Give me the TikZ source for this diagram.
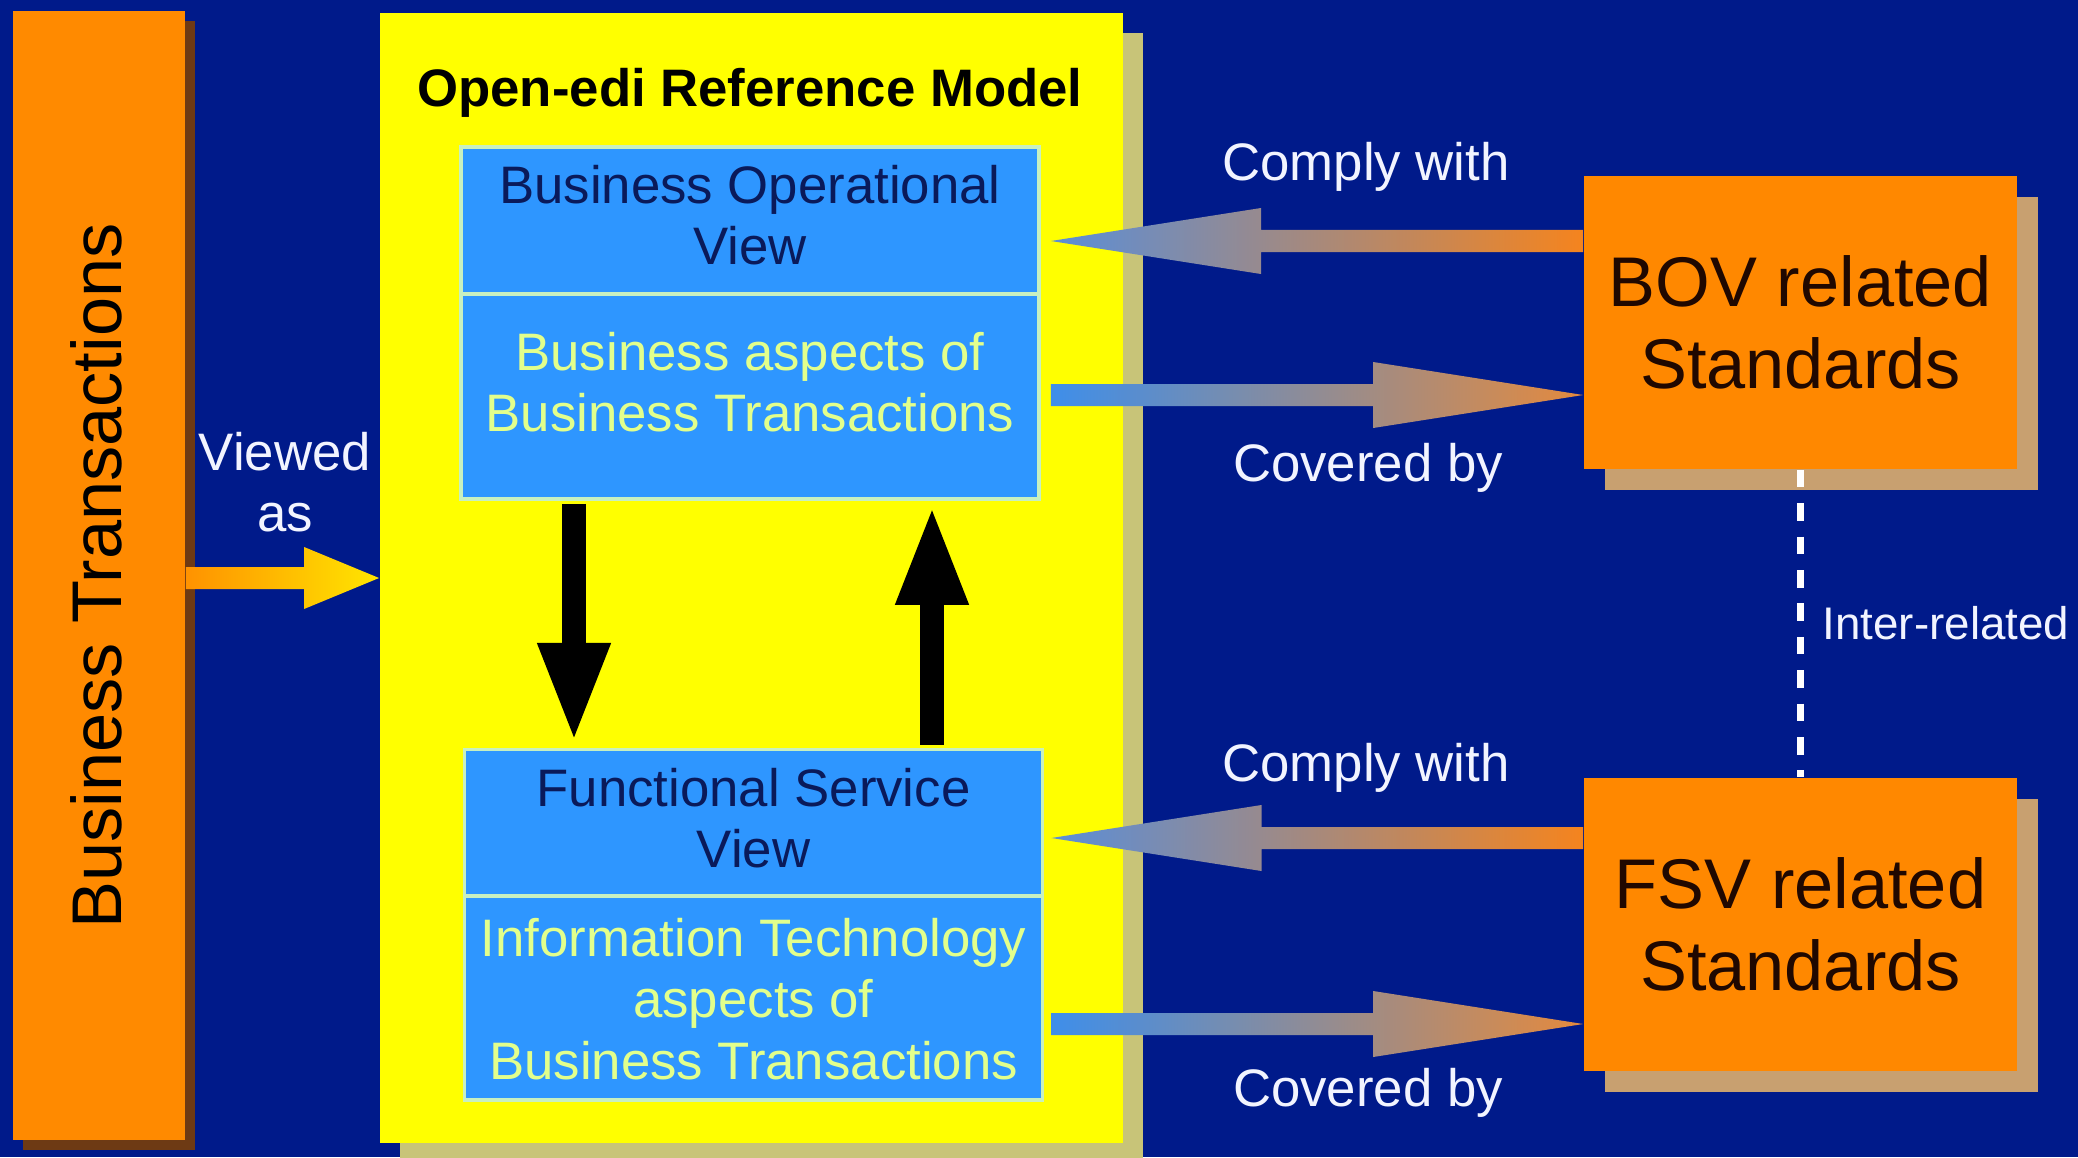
\documentclass[tikz,border=0pt]{standalone}
\usepackage{fontspec}
\setmainfont{Liberation Sans}
\usetikzlibrary{arrows.meta}
\usetikzlibrary{calc}
\usetikzlibrary{shadows}
\definecolor{navybg}{HTML}{001A8A}
\definecolor{barorange}{HTML}{FF8A00}
\definecolor{barshade}{HTML}{6E3A14}
\definecolor{modelyellow}{HTML}{FFFF00}
\definecolor{modelshade}{HTML}{C8C478}
\definecolor{viewblue}{HTML}{2E96FF}
\definecolor{viewline}{HTML}{C8F0C0}
\definecolor{viewtext}{HTML}{0A1A5A}
\definecolor{asptext}{HTML}{E2FF8C}
\definecolor{stdorange}{HTML}{FF8800}
\definecolor{stdshade}{HTML}{C8A070}
\definecolor{stdtext}{HTML}{200800}
\definecolor{tipblue}{HTML}{5A8ED8}
\definecolor{tailblue}{HTML}{3E8EEA}
\definecolor{tailorange}{HTML}{F5841E}
\definecolor{tiporange}{HTML}{E48A3E}
\definecolor{vieworange}{HTML}{FF9200}
\definecolor{viewyellow}{HTML}{FFE600}
\definecolor{labelwhite}{HTML}{F2F4FF}
% fat shaded arrow: from, to, head length, head half width, shading
\newcommand\fatarrow[5]{%
\coordinate (fa-a) at (#1);
\coordinate (fa-b) at (#2);
\coordinate (fa-h) at ($(fa-b)!#3!(fa-a)$);
\shade[#5] ($(fa-a)!0.11cm!90:(fa-b)$) -- ($(fa-h)!0.11cm!90:(fa-b)$) -- ($(fa-h)!#4!90:(fa-b)$) -- (fa-b)
 -- ($(fa-h)!#4!-90:(fa-b)$) -- ($(fa-h)!0.11cm!-90:(fa-b)$) -- ($(fa-a)!0.11cm!-90:(fa-b)$) -- cycle;}
\tikzset{
	transbar/.style={rectangle,fill=barorange,inner sep=0pt,minimum width=1.72cm,minimum height=11.29cm,
		drop shadow={shadow xshift=0.1cm,shadow yshift=-0.1cm,fill=barshade,opacity=1}},
	bartxt/.style={rotate=90,inner sep=0pt,font=\fontsize{20}{24}\selectfont},
	refmodel/.style={rectangle,fill=modelyellow,inner sep=0pt,minimum width=7.43cm,minimum height=11.30cm,
		drop shadow={shadow xshift=0.2cm,shadow yshift=-0.2cm,fill=modelshade,opacity=1}},
	titletxt/.style={inner sep=0pt,font=\fontsize{15}{18}\selectfont\bfseries},
	viewbox/.style={rectangle,fill=viewblue,draw=viewline,line width=1pt,inner sep=0pt,minimum width=5.78cm},
	viewtxt/.style={inner sep=0pt,align=center,text=viewtext,font=\fontsize{15}{17.4}\selectfont},
	asptxt/.style={inner sep=0pt,align=center,text=asptext,font=\fontsize{15}{17.4}\selectfont},
	stdbox/.style={rectangle,fill=stdorange,inner sep=0pt,minimum width=4.33cm,minimum height=2.93cm,
		align=center,text=stdtext,font=\fontsize{20}{23.3}\selectfont,
		drop shadow={shadow xshift=0.21cm,shadow yshift=-0.21cm,fill=stdshade,opacity=1}},
	arrlabel/.style={inner sep=0pt,align=center,text=labelwhite,font=\fontsize{15}{17.4}\selectfont},
	blkarrow/.style={line width=0.24cm,black,-{Triangle[width=0.66cm,length=1cm]}},
	interrel/.style={white,line width=2pt,dash pattern=on 5pt off 4.5pt},
}
\begin{document}
\begin{tikzpicture}[x=0.01cm,y=-0.01cm]
% BACKGROUND
\fill[navybg] (0,0) rectangle (2078,1157);
\useasboundingbox (0,0) rectangle (2078,1157);
% NODES
\node[transbar] (bt) at (99,575.5) {};
\node[bartxt] (bttxt) at (96,576) {Business Transactions};
\node[refmodel] (orm) at (751.5,578) {};
\node[titletxt] (ormtitle) at (750,93) {Open-edi Reference Model};
\node[viewbox,minimum height=1.47cm] (bov) at (750,220.5) {};
\node[viewtxt] (bovtxt) at (750,215) {Business Operational\\View};
\node[viewbox,minimum height=2.05cm] (bovasp) at (750,396.5) {};
\node[asptxt] (bovasptxt) at (750,382) {Business aspects of\\Business Transactions};
\node[viewbox,minimum height=1.465cm] (fsv) at (753.5,823) {};
\node[viewtxt] (fsvtxt) at (753.5,818) {Functional Service\\View};
\node[viewbox,minimum height=2.035cm] (fsvasp) at (753.5,998) {};
\node[asptxt] (fsvasptxt) at (753.5,999) {Information Technology\\aspects of\\Business Transactions};
\node[stdbox] (bovstd) at (1800.5,322.5) {BOV related\\Standards};
\node[stdbox] (fsvstd) at (1800.5,924.5) {FSV related\\Standards};
% LEVELS
\coordinate (lviewed) at (0,578);
\coordinate (lcomply1) at (0,241);
\coordinate (lcover1) at (0,395);
\coordinate (lcomply2) at (0,838);
\coordinate (lcover2) at (0,1024);
\coordinate (bovr) at ([xshift=0.1cm]bov.east);
\coordinate (fsvr) at ([xshift=0.07cm]fsv.east);
% ARROWS
\fatarrow{bt.east |- lviewed}{orm.west |- lviewed}{0.75cm}{0.31cm}{left color=vieworange,right color=viewyellow}
\fatarrow{bovstd.west |- lcomply1}{bovr |- lcomply1}{2.1cm}{0.33cm}{left color=tipblue,right color=tailorange}
\fatarrow{bovr |- lcover1}{bovstd.west |- lcover1}{2.1cm}{0.33cm}{left color=tailblue,right color=tiporange}
\fatarrow{fsvstd.west |- lcomply2}{fsvr |- lcomply2}{2.1cm}{0.33cm}{left color=tipblue,right color=tailorange}
\fatarrow{fsvr |- lcover2}{fsvstd.west |- lcover2}{2.1cm}{0.33cm}{left color=tailblue,right color=tiporange}
\draw[blkarrow,shorten <=0.03cm,shorten >=0.05cm] (bovasp.south -| 574,0) -- (fsv.north -| 574,0);
\draw[blkarrow,shorten <=0.03cm,shorten >=0.04cm] (fsv.north -| 932,0) -- (bovasp.south -| 932,0);
\draw[interrel] (bovstd.south) -- (fsvstd.north);
% LABELS
\node[arrlabel] (viewedlbl) at (285,482) {Viewed\\as};
\node[arrlabel,anchor=base] (comply1lbl) at (1366,180) {Comply with};
\node[arrlabel,anchor=base] (cover1lbl) at (1368,481) {Covered by};
\node[arrlabel,anchor=base] (comply2lbl) at (1366,781) {Comply with};
\node[arrlabel,anchor=base] (cover2lbl) at (1368,1106) {Covered by};
\node[arrlabel,anchor=west,font=\fontsize{13}{15}\selectfont] (interlbl) at (1822,623) {Inter-related};
\end{tikzpicture}
\end{document}
